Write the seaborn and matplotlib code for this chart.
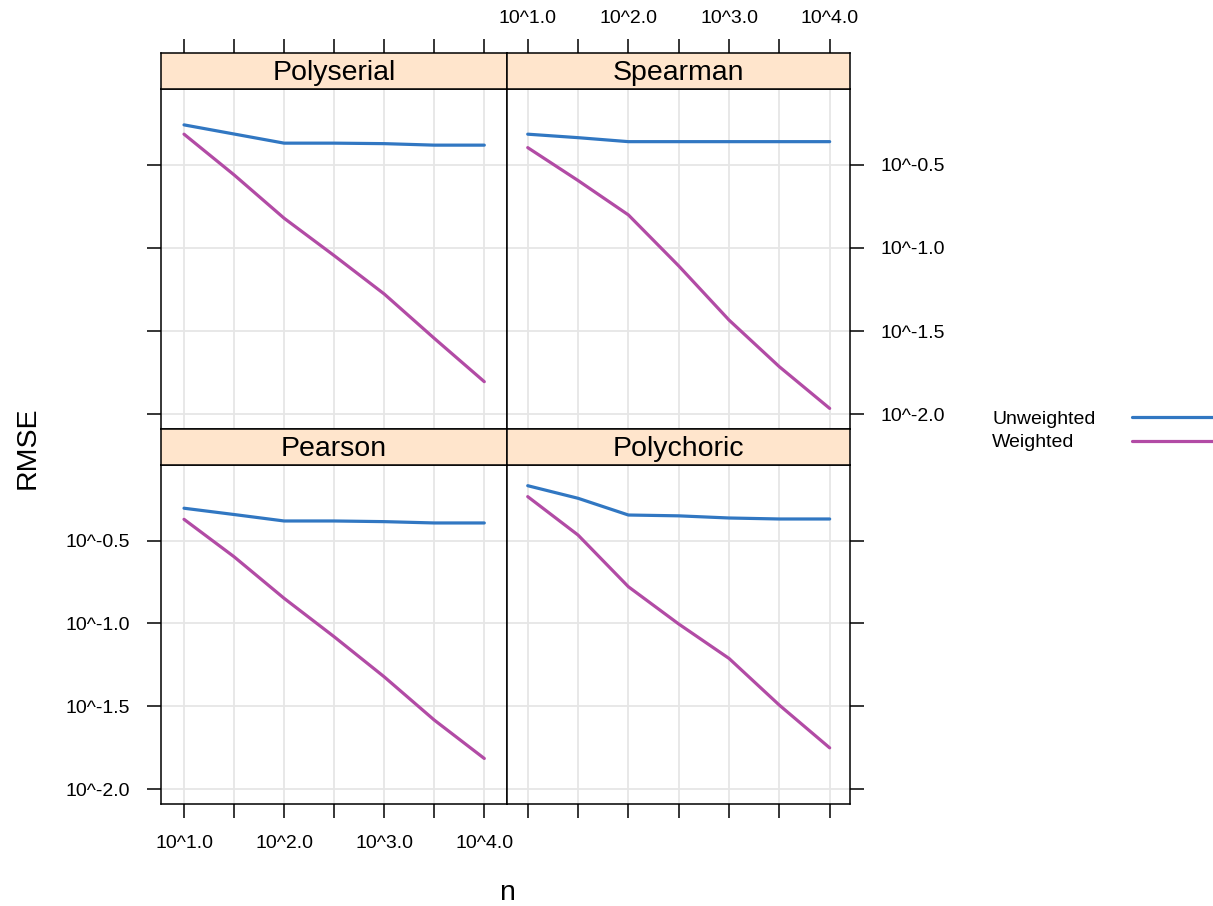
import numpy as np
import pandas as pd
import matplotlib
matplotlib.use("Agg")
import matplotlib.pyplot as plt
from matplotlib.lines import Line2D
import seaborn as sns

# data: log10(n) and log10(RMSE)
log_n = [1.0, 1.5, 2.0, 2.5, 3.0, 3.5, 4.0]

polyserial_unw = [-0.259, -0.314, -0.369, -0.369, -0.372, -0.381, -0.381]
polyserial_w = [-0.315, -0.560, -0.821, -1.046, -1.277, -1.544, -1.805]
spearman_unw = [-0.315, -0.336, -0.360, -0.360, -0.360, -0.360, -0.360]
spearman_w = [-0.396, -0.594, -0.801, -1.108, -1.434, -1.715, -1.966]
pearson_unw = [-0.304, -0.342, -0.381, -0.381, -0.385, -0.393, -0.393]
pearson_w = [-0.371, -0.597, -0.848, -1.080, -1.322, -1.583, -1.815]
polychoric_unw = [-0.168, -0.244, -0.345, -0.350, -0.363, -0.369, -0.369]
polychoric_w = [-0.234, -0.466, -0.778, -1.003, -1.211, -1.493, -1.751]

panels = ["Polyserial", "Spearman", "Pearson", "Polychoric"]
groups = ["Unweighted", "Weighted"]
colors = ["#3177C2", "#B24BA5"]

series = {
    "Polyserial": (polyserial_unw, polyserial_w),
    "Spearman": (spearman_unw, spearman_w),
    "Pearson": (pearson_unw, pearson_w),
    "Polychoric": (polychoric_unw, polychoric_w),
}

rows = []
for p in panels:
    for g, vals in zip(groups, series[p]):
        for x, y in zip(log_n, vals):
            rows.append({"panel": p, "weighting": g, "log_n": x, "log_rmse": y})
df = pd.DataFrame(rows)

# style
sns.set_style("whitegrid", {"grid.color": "#E6E6E6", "axes.edgecolor": "black"})
plt.rcParams["font.family"] = ["Liberation Sans", "DejaVu Sans"]
plt.rcParams["text.color"] = "black"
plt.rcParams["xtick.color"] = "black"
plt.rcParams["ytick.color"] = "black"

W, H = 1213, 906
fig = plt.figure(figsize=(W / 100, H / 100), dpi=100)


def rect(x0, y0, x1, y1):
    return [x0 / W, 1 - y1 / H, (x1 - x0) / W, (y1 - y0) / H]


cols = [(161, 507), (507, 850)]
xlims = [(0.770, 4.227), (0.794, 4.202)]
panel_rows = [(89, 429), (465, 804)]
strip_rows = [(53, 89), (429, 465)]
ylim = (-2.09, -0.043)

xticks = [1.0, 1.5, 2.0, 2.5, 3.0, 3.5, 4.0]
xlabels = [f"10^{t:.1f}" if t % 1 == 0 else "" for t in xticks]
yticks = [-2.0, -1.5, -1.0, -0.5]
ylabels = [f"10^{t:.1f}" for t in yticks]

for i, name in enumerate(panels):
    r, c = divmod(i, 2)
    x0, x1 = cols[c]
    y0, y1 = panel_rows[r]
    ax = fig.add_axes(rect(x0, y0, x1, y1))
    sub = df[df["panel"] == name]
    sns.lineplot(data=sub, x="log_n", y="log_rmse", hue="weighting",
                 hue_order=groups, palette=colors, linewidth=2.3,
                 legend=False, ax=ax)
    ax.set_xlim(*xlims[c])
    ax.set_ylim(*ylim)
    ax.set_xticks(xticks)
    ax.set_yticks(yticks)
    ax.grid(True, color="#E6E6E6", linewidth=1.3)
    ax.set_xlabel("")
    ax.set_ylabel("")
    for s in ax.spines.values():
        s.set_color("black")
        s.set_linewidth(1.1)

    ax.tick_params(axis="both", which="both", direction="out", length=10,
                   width=1.1, color="black", labelsize=14, pad=12,
                   bottom=False, top=False, left=False, right=False,
                   labelbottom=False, labeltop=False, labelleft=False,
                   labelright=False)
    if r == 1:
        ax.tick_params(axis="x", bottom=True, labelbottom=(c == 0))
    if c == 0:
        ax.tick_params(axis="y", left=True, labelleft=(r == 1))
    else:
        ax.tick_params(axis="y", right=True, labelright=(r == 0))
    ax.set_xticklabels(xlabels)
    ax.set_yticklabels(ylabels)

    # strip
    sy0, sy1 = strip_rows[r]
    sax = fig.add_axes(rect(x0, sy0, x1, sy1))
    sax.set_facecolor("#FFE5CC")
    sax.set_xlim(*xlims[c])
    sax.set_ylim(0, 1)
    sax.set_yticks([])
    sax.grid(False)
    for s in sax.spines.values():
        s.set_color("black")
        s.set_linewidth(1.1)
    if r == 0:
        # top axis ticks sit above the strips
        sax.set_xticks(xticks)
        sax.set_xticklabels(xlabels)
        sax.tick_params(axis="x", direction="out", length=10, width=1.1,
                        color="black", labelsize=14, pad=9,
                        bottom=False, labelbottom=False,
                        top=True, labeltop=(c == 1))
    else:
        sax.set_xticks([])
    sax.text(0.5, 0.45, name, ha="center", va="center", fontsize=20.5,
             transform=sax.transAxes)

# axis titles
fig.text(27.5 / W, 1 - 448 / H, "RMSE", rotation=90, ha="center",
         va="center", fontsize=20.5)
fig.text(507 / W, 1 - 893 / H, "n", ha="center", va="center", fontsize=20.5)

# key
for k, (g, col) in enumerate(zip(groups, colors)):
    ty = 419 + 23.5 * k
    fig.text(992 / W, 1 - ty / H, g, ha="left", va="center", fontsize=14)
    fig.add_artist(Line2D([1132 / W, 1215 / W], [1 - (ty - 2) / H] * 2,
                          color=col, linewidth=2.3, transform=fig.transFigure))

fig.savefig("out.png", dpi=100)
